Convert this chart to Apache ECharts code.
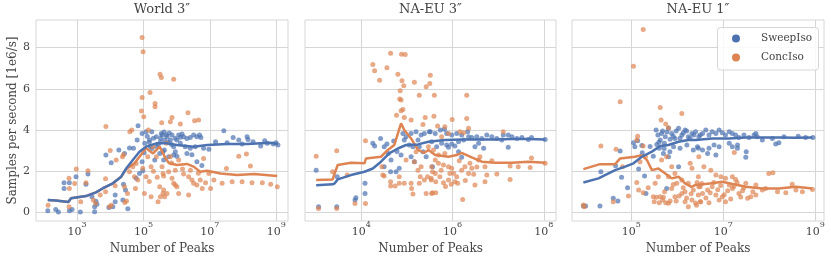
<!DOCTYPE html>
<html><head><meta charset="utf-8">
<script src="https://cdn.jsdelivr.net/npm/echarts@6.0.0/dist/echarts.min.js"></script>
<style>html,body{margin:0;padding:0;background:#fff}#c{width:831px;height:262px}</style>
</head><body><div id="c"></div>
<script>
const panelTitles = ['World 3\u2033', 'NA-EU 3\u2033', 'NA-EU 1\u2033'];
const seriesNames = ['SweepIso', 'ConcIso'];
const xName = 'Number of Peaks';
const yName = 'Samples per second [1e6/s]';
const yTicks = [0, 2, 4, 6, 8];
const xTicksWorld = [1e3, 1e5, 1e7, 1e9];
const xTicksNa3 = [1e4, 1e6, 1e8];
const xTicksNa1 = [1e5, 1e7, 1e9];

const worldSweep = [[132,0.08],[229,0.14],[275,0.02],[589,0.08],[708,0.14],[1260,0.02],[407,1.44],[589,1.44],[407,1.16],[933,1.73],[2140,1.86],[1860,1.37],[2820,0.76],[3720,0.54],[3390,0.27],[3390,0.03],[3980,0.39],[9120,0.24],[14100,0.52],[14100,0.84],[7410,2.78],[10700,2.41],[28800,1.08],[25100,1.36],[18200,3.03],[26900,2.86],[38000,3.12],[50100,3.11],[64600,3.51],[91200,3.83],[120000,3.91],[178000,3.91],[151000,3.51],[91200,2.46],[75900,1.89],[95500,2.02],[60300,1.65],[110000,3.35],[245000,3.67],[347000,3.83],[437000,3.51],[389000,2.94],[309000,2.86],[219000,2.54],[490000,3.75],[33900,0.18],[24000,0.60],[12000,0.27],[69000,4.2],
[363000,3.75],[513000,3.67],[646000,3.51],[724000,3.75],[813000,3.19],[1.02e6,3.51],[1.15e6,3.75],[1.45e6,3.80],[1.62e6,3.67],[2.04e6,3.59],[2.57e6,3.64],[3.24e6,3.75],[4.07e6,3.67],[4.9e6,3.75],[5.37e6,3.64],[1.29e6,3.35],[1.82e6,3.19],[2.57e6,3.11],[3.63e6,3.19],[813000,2.78],[1.02e6,2.73],[912000,2.94],[2.04e6,2.86],[2.88e6,2.80],[4.07e6,2.46],[5.75e6,2.28],[6.46e6,3.11],[9.33e6,3.06],[1.48e7,3.43],[2.63e7,3.96],[3.31e7,3.38],[5.01e7,3.64],[7.41e7,3.51],[9.33e7,3.32],[1.32e8,3.67],[1.41e8,3.54],[2.0e8,3.43],[3.39e8,3.22],[4.47e8,3.48],[5.37e8,3.35],[8.13e8,3.32],[9.77e8,3.38],[1.12e9,3.27],[427000,3.03],[575000,2.70],[407000,2.54],[324000,3.43],
[200000,3.6],[280000,3.3],[160000,3.2],[130000,3.7],[105000,2.9],[420000,3.9],[550000,3.4],[700000,3.3],[150000,3.4],[180000,3.1],[250000,3.2],[330000,3.6],[600000,3.85],[900000,3.6],[1.3e6,3.65]];
const worldConc = [[135,0.34],[575,1.65],[589,1.16],[575,0.27],[955,2.10],[851,1.40],[1860,1.44],[2140,2.02],[1290,0.52],[3090,0.60],[3630,0.43],[5010,0.84],[7240,1.63],[7240,1.00],[7410,4.17],[10000,3.00],[10700,0.34],[9550,0.27],[15100,2.54],[14100,1.29],[25100,2.80],[23400,2.70],[27500,0.48],[30900,0.55],[26900,1.24],[33100,0.92],[38000,1.97],[38900,3.91],[44700,4.00],[47900,2.22],[53700,1.73],[60300,2.37],[67600,1.57],[57500,1.16],[87100,4.92],[91200,5.58],[91200,8.49],[97700,7.80],[102000,4.64],[95500,2.14],[107000,0.92],[141000,4.00],[158000,5.82],[170000,0.76],[170000,2.22],[135000,2.70],[120000,1.73],[224000,5.29],[224000,5.13],[316000,6.70],[347000,6.55],[355000,4.35],[191000,3.19],[245000,2.70],[389000,1.89],[309000,1.24],[389000,0.92],[275000,0.52],[437000,0.76],
[813000,6.46],[2.19e6,4.84],[724000,4.61],[1.29e6,4.29],[3.47e6,4.45],[4.57e6,4.48],[646000,4.40],[490000,3.35],[646000,2.70],[363000,2.22],[1.15e6,2.54],[912000,2.05],[575000,1.97],[724000,1.65],[407000,1.76],[1.62e6,1.86],[2.29e6,1.73],[2.88e6,1.57],[813000,1.41],[912000,1.33],[1.02e6,1.24],[324000,0.76],[407000,1.08],[1.15e6,0.92],[2.29e6,0.84],[4.07e6,1.33],[3.24e6,1.41],[5.13e6,1.57],[7.41e6,1.44],[9.33e6,1.89],[6.46e6,2.62],[1.32e7,1.57],[2.34e7,1.41],[4.68e7,1.49],[7.41e7,2.73],[1.26e8,2.83],[1.66e8,2.25],[9.33e7,1.49],[1.86e8,1.44],[3.8e8,1.44],[6.76e8,1.37],[1.07e9,1.24],[3.16e7,2.13],[1.05e7,1.16],[5.89e6,1.16],[513000,0.92],
[150000,1.5],[200000,2.0],[260000,1.7],[700000,2.4],[1.5e6,2.1],[2.6e6,2.05],[4.5e6,1.9]];
const worldSweepTrend = [[132,0.60],[229,0.58],[550,0.50],[661,0.68],[1860,0.79],[3720,0.97],[5890,1.16],[12000,1.41],[21400,1.73],[30200,2.13],[47900,2.54],[75900,2.94],[120000,3.19],[245000,3.35],[490000,3.35],[1.02e6,3.27],[3.24e6,3.19],[8.32e6,3.27],[3.31e7,3.32],[1.32e8,3.32],[6.76e8,3.38],[1.12e9,3.32]];
const worldConcTrend = [[132,0.60],[229,0.58],[550,0.50],[661,0.68],[1860,0.79],[3720,0.97],[5890,1.16],[12000,1.41],[21400,1.73],[30200,2.10],[53700,2.38],[120000,3.11],[195000,2.86],[309000,3.19],[437000,2.70],[575000,2.40],[1.02e6,2.30],[2.04e6,2.35],[3.24e6,2.22],[5.13e6,1.97],[8.32e6,2.02],[2.09e7,1.89],[6.61e7,1.81],[2.14e8,1.86],[1.07e9,1.76]];

const na3Sweep = [[1020,2.04],[1150,0.27],[2880,0.27],[7240,0.60],[7590,0.71],[12000,1.41],[12000,0.92],[17800,3.35],[19500,3.22],[26300,3.58],[31600,3.19],[38900,2.86],[36300,3.32],[51300,3.46],[44700,2.54],[31600,2.22],[67600,2.14],[57500,1.97],[43700,1.97],[60300,2.95],[74100,2.78],[81300,3.83],[95500,3.67],[123000,3.83],[158000,3.91],[204000,3.75],[240000,3.83],[309000,3.91],[123000,2.70],[145000,2.46],[186000,3.19],[224000,2.94],[263000,2.70],[363000,2.22],[87100,3.51],[112000,3.27],[135000,3.19],[174000,3.51],[2950,1.73],
[324000,3.91],[417000,3.83],[537000,4.0],[661000,4.03],[741000,3.83],[955000,3.75],[1.23e6,3.83],[1.58e6,3.75],[2.14e6,3.91],[2.24e6,3.67],[347000,3.43],[447000,3.19],[575000,3.35],[741000,3.27],[955000,3.32],[1.35e6,3.43],[1.74e6,3.51],[813000,3.16],[1.12e6,3.22],[2.63e6,3.64],[3.39e6,3.67],[4.37e6,3.59],[5.62e6,3.75],[7.24e6,3.67],[9.33e6,3.59],[3.09e6,3.19],[3.72e6,3.35],[1.29e7,3.75],[1.66e7,3.75],[2.0e7,3.67],[1.2e7,3.51],[2.57e7,3.59],[3.31e7,3.64],[4.57e7,3.54],[1.66e7,3.16],[5.37e7,3.64],[1.07e8,3.54],[1.35e6,2.94],[1.58e6,2.67],[4.79e6,3.11]];
const na3Conc = [[1020,2.73],[1150,0.19],[2880,0.19],[2880,2.99],[2340,1.97],[4900,1.81],[7240,0.43],[12300,0.43],[12300,3.48],[17800,7.18],[19500,6.88],[25100,6.42],[36300,7.02],[43700,7.73],[75900,7.68],[91200,7.67],[63100,6.71],[77600,6.39],[85100,6.15],[70800,5.90],[69200,5.50],[74100,5.45],[81300,5.0],[74100,4.93],[58900,4.72],[87100,4.61],[123000,4.48],[224000,4.27],[251000,4.61],[186000,5.69],[145000,6.32],[263000,6.10],[316000,6.26],[324000,6.66],[28200,2.22],[29500,1.81],[31600,1.76],[43700,1.49],[43700,1.28],[55000,1.28],[67600,1.73],[67600,1.41],[87100,1.41],[123000,1.41],[126000,1.16],[135000,0.89],[186000,1.41],[195000,1.73],[240000,1.57],[282000,1.73],[339000,1.65],[363000,1.97],[145000,2.46],[204000,2.22],[174000,2.05],[263000,0.92],[347000,0.92],[95500,2.54],[158000,2.94],
[398000,5.69],[2.04e6,5.69],[389000,4.67],[977000,4.51],[2.04e6,4.56],[468000,4.19],[676000,4.16],[2.24e6,4.08],[1.45e6,3.91],[1.74e6,3.87],[1.29e7,3.91],[575000,3.67],[813000,3.83],[295000,3.19],[380000,3.03],[490000,2.78],[676000,2.86],[417000,2.54],[347000,2.22],[490000,2.38],[631000,2.30],[813000,2.22],[955000,2.14],[871000,1.89],[417000,1.89],[339000,1.57],[427000,1.49],[525000,1.73],[631000,1.44],[813000,1.57],[933000,1.36],[1.12e6,1.49],[1.29e6,1.41],[1.58e6,2.05],[1.86e6,2.22],[2.4e6,2.38],[2.63e6,2.14],[3.72e6,2.54],[3.98e6,2.70],[5.13e6,2.22],[5.62e6,1.81],[7.24e6,2.51],[9.33e6,1.86],[1.82e7,2.25],[2.75e7,2.22],[5.01e7,2.18],[5.37e7,2.64],[1.07e8,2.38],[1.82e7,1.60],[3.09e6,1.33],[5.13e6,1.49],[363000,0.95],[427000,0.95],[1.66e6,0.63],[1.23e6,1.73],[2.24e6,1.89],
[560000,2.05],[700000,1.25],[1.05e6,1.9],[1.4e6,2.5],[1.9e6,1.55],[2.9e6,1.85],[3.4e6,2.2]];
const na3SweepTrend = [[1020,1.32],[2340,1.36],[2600,1.41],[3020,1.60],[5890,1.81],[11700,1.97],[17800,2.13],[26900,2.46],[40700,2.86],[63100,3.10],[95500,3.27],[174000,3.30],[295000,3.43],[676000,3.51],[1.58e6,3.54],[3.72e6,3.54],[8.51e6,3.54],[2.0e7,3.56],[4.57e7,3.56],[1.07e8,3.54]];
const na3ConcTrend = [[1020,1.57],[2340,1.60],[3020,2.30],[5890,2.41],[11700,2.38],[12600,2.62],[26900,2.70],[38000,3.03],[52500,3.27],[74100,4.32],[87100,4.0],[123000,3.59],[174000,3.03],[240000,2.89],[295000,3.03],[417000,2.78],[813000,2.70],[1.23e6,2.78],[1.58e6,2.89],[2.63e6,2.67],[4.37e6,2.46],[8.51e6,2.41],[2.0e7,2.41],[4.57e7,2.46],[1.07e8,2.41]];

const na1Sweep = [[9120,0.31],[10200,0.31],[20900,0.31],[40700,0.68],[51300,0.55],[21900,1.97],[57500,2.98],[45700,2.26],[61700,1.70],[83200,1.20],[112000,3.38],[120000,3.19],[138000,3.48],[170000,3.25],[174000,2.90],[257000,3.20],[145000,2.10],[195000,1.76],[209000,0.92],[302000,2.73],[347000,4.0],[380000,3.75],[457000,3.83],[550000,3.67],[646000,4.08],[427000,3.51],[525000,3.35],[407000,3.11],[501000,2.86],[646000,2.70],[692000,2.94],[759000,3.83],[891000,3.59],[1.07e6,4.08],[1.26e6,3.75],[1.48e6,4.0],[1.74e6,3.67],[2.09e6,3.83],[2.51e6,3.91],[3.16e6,3.75],[832000,3.19],[1.15e6,3.11],[1.62e6,3.27],[2.24e6,3.03],[2.88e6,3.11],[1.07e6,2.21],[589000,1.16],
[2.95e6,3.67],[3.55e6,3.83],[4.17e6,4.0],[4.9e6,3.75],[5.75e6,3.91],[6.92e6,3.83],[8.13e6,4.0],[9.55e6,3.87],[1.12e7,3.75],[1.35e7,3.91],[1.58e7,3.83],[1.86e7,3.75],[2.19e7,3.64],[2.82e7,3.75],[3.63e7,3.64],[4.68e7,3.75],[5.13e7,3.83],[2.75e6,3.19],[3.55e6,3.03],[4.9e6,3.11],[6.31e6,3.27],[8.13e6,3.19],[1.35e7,3.35],[1.58e7,3.19],[2.04e7,3.27],[4.57e6,2.86],[6.92e6,2.78],[2.04e7,3.11],[3.09e7,2.67],[3.16e7,2.94],[5.5e7,3.67],[7.08e7,3.51],[1.17e8,3.59],[1.38e8,3.32],[1.62e8,3.38],[2.09e8,3.67],[4.27e8,3.70],[6.17e8,3.64],[8.91e8,3.64],
[480000,3.95],[600000,3.9],[700000,3.55],[820000,3.7],[950000,3.95],[1.15e6,3.6],[1.35e6,3.85],[1.6e6,3.95],[1.9e6,3.6],[2.3e6,3.75],[400000,3.4],[520000,3.1],[360000,3.3]];
const na1Conc = [[182000,8.88],[112000,7.10],[57500,5.37],[9120,0.36],[9550,0.27],[21900,3.22],[46800,3.07],[64600,2.21],[40700,0.52],[87100,0.79],[138000,3.70],[132000,3.51],[182000,3.22],[204000,2.70],[155000,2.46],[132000,1.45],[145000,1.08],[182000,0.95],[234000,1.20],[302000,0.76],[355000,0.73],[427000,0.76],[501000,0.73],[316000,0.52],[407000,0.47],[562000,0.47],[427000,5.09],[447000,4.48],[562000,4.29],[646000,4.11],[1.26e6,4.80],[457000,2.54],[589000,2.70],[389000,1.73],[331000,1.41],[759000,2.21],[891000,1.89],[646000,1.73],[759000,1.16],[891000,0.76],[646000,0.44],[977000,1.41],[1.26e6,1.57],[1.74e6,1.41],[1.26e6,0.92],[1.48e6,0.52],[1.74e6,0.27],[2.09e6,0.60],[2.63e6,0.35],[3.16e6,0.52],[1.91e6,2.38],[2.09e6,2.14],[2.88e6,1.73],[3.16e6,1.24],[1.48e6,1.0],[2.24e6,1.08],[2.88e6,0.84],
[2.95e6,2.70],[3.8e6,2.21],[5.37e6,2.05],[6.92e6,1.81],[1.74e7,2.91],[8.91e6,1.73],[1.12e7,1.65],[1.58e7,1.73],[1.86e7,1.60],[2.95e6,1.24],[3.55e6,0.92],[4.57e6,1.08],[5.75e6,1.24],[6.92e6,0.84],[8.13e6,0.60],[9.55e6,0.76],[1.12e7,0.52],[1.35e7,1.33],[1.58e7,1.16],[2.19e7,0.92],[2.63e7,1.05],[3.09e7,1.41],[3.39e7,0.68],[3.98e7,0.76],[5.13e7,0.84],[5.13e7,1.33],[7.08e7,1.08],[9.77e7,1.89],[1.2e8,1.92],[1.51e8,1.0],[2.29e8,0.95],[3.8e8,1.08],[5.25e8,1.0],[8.71e8,1.11],[3.16e8,1.37],[8.32e7,1.16],[3.24e6,0.52],[4.9e6,0.47],
[3.4e6,1.4],[4.2e6,0.7],[5.2e6,0.95],[6.2e6,1.45],[7.6e6,1.1],[8.8e6,1.3],[1.05e7,0.85],[1.25e7,1.05],[1.45e7,0.65],[1.7e7,1.25],[2.0e7,1.45],[2.4e7,0.75],[2.8e7,1.2],[4.4e7,1.0],
[480000,0.6],[530000,1.0],[700000,0.55],[820000,1.35],[950000,0.55],[1.1e6,0.8],[1.35e6,1.2],[1.6e6,0.7],[2.0e6,0.9],[2.5e6,0.45],[2.7e6,1.45]];
const na1SweepTrend = [[9120,1.45],[19500,1.65],[26900,1.81],[44700,2.05],[74100,2.22],[112000,2.38],[170000,2.70],[282000,2.95],[427000,3.22],[646000,3.27],[1.07e6,3.43],[1.74e6,3.51],[2.51e6,3.51],[5.75e6,3.59],[1.35e7,3.59],[3.09e7,3.64],[7.08e7,3.64],[1.62e8,3.64],[3.8e8,3.62],[8.71e8,3.64]];
const na1ConcTrend = [[9120,2.10],[20900,2.34],[44700,2.34],[57500,2.62],[120000,2.70],[170000,2.78],[219000,2.54],[282000,2.05],[389000,2.13],[550000,1.89],[759000,1.65],[1.07e6,1.73],[1.48e6,1.41],[2.04e6,1.24],[2.51e6,1.33],[5.75e6,1.41],[9.55e6,1.49],[1.35e7,1.41],[3.09e7,1.24],[7.08e7,1.16],[1.62e8,1.16],[3.8e8,1.24],[8.71e8,1.16]];

const FONT = 'DejaVu Serif';
const TEXT = '#444';
const GRID = '#d6d6d6';
const BLUE = '#4C72B0';
const ORANGE = '#DD8452';

const panels = [
  {sweep: worldSweep, conc: worldConc, sweepTrend: worldSweepTrend, concTrend: worldConcTrend, ticks: xTicksWorld, range: [58.3, 2.25e9], left: 36, width: 252},
  {sweep: na3Sweep, conc: na3Conc, sweepTrend: na3SweepTrend, concTrend: na3ConcTrend, ticks: xTicksNa3, range: [580, 1.85e8], left: 305, width: 251},
  {sweep: na1Sweep, conc: na1Conc, sweepTrend: na1SweepTrend, concTrend: na1ConcTrend, ticks: xTicksNa1, range: [5160, 1.55e9], left: 572, width: 252}
];

const grids = [], xAxes = [], yAxes = [], series = [], graphics = [];
panels.forEach((p, i) => {
  grids.push({left: p.left, top: 20, width: p.width, height: 201, show: true, borderColor: GRID, borderWidth: 1, backgroundColor: 'transparent'});
  xAxes.push({
    type: 'log', logBase: 10, gridIndex: i, min: p.range[0], max: p.range[1],
    name: xName, nameLocation: 'middle', nameGap: 21,
    nameTextStyle: {fontFamily: FONT, fontSize: 12, color: TEXT},
    axisLine: {show: false},
    axisTick: {show: false, customValues: p.ticks},
    axisLabel: {
      customValues: p.ticks, margin: 0,
      formatter: v => '{b|10}{s|' + Math.round(Math.log10(v)) + '}',
      rich: {
        b: {fontFamily: FONT, fontSize: 11, color: TEXT, lineHeight: 17, verticalAlign: 'bottom'},
        s: {fontFamily: FONT, fontSize: 8, color: TEXT, lineHeight: 9, verticalAlign: 'top'}
      }
    },
    splitLine: {show: true, lineStyle: {color: GRID, width: 1}},
    minorTick: {show: false}, minorSplitLine: {show: false}
  });
  yAxes.push({
    type: 'value', gridIndex: i, min: -0.42, max: 9.34,
    name: i === 0 ? yName : '', nameLocation: 'middle', nameGap: 15,
    nameTextStyle: {fontFamily: FONT, fontSize: 12, color: TEXT},
    axisLine: {show: false},
    axisTick: {show: false, customValues: yTicks},
    axisLabel: {show: i === 0, customValues: yTicks, fontFamily: FONT, fontSize: 11, color: TEXT, margin: 6},
    splitLine: {show: true, lineStyle: {color: GRID, width: 1}}
  });
  series.push({type: 'scatter', name: seriesNames[0], xAxisIndex: i, yAxisIndex: i, data: p.sweep, symbolSize: 5,
    itemStyle: {color: BLUE, opacity: 0.7}, z: 2});
  series.push({type: 'scatter', name: seriesNames[1], xAxisIndex: i, yAxisIndex: i, data: p.conc, symbolSize: 5,
    itemStyle: {color: ORANGE, opacity: 0.7}, z: 2});
  series.push({type: 'line', name: seriesNames[1] + ' trend', xAxisIndex: i, yAxisIndex: i, data: p.concTrend, showSymbol: false, symbol: 'none',
    lineStyle: {color: ORANGE, width: 2.5}, itemStyle: {color: ORANGE}, z: 3});
  series.push({type: 'line', name: seriesNames[0] + ' trend', xAxisIndex: i, yAxisIndex: i, data: p.sweepTrend, showSymbol: false, symbol: 'none',
    lineStyle: {color: BLUE, width: 2.5}, itemStyle: {color: BLUE}, z: 4});
  graphics.push({type: 'text', x: p.left + p.width / 2, y: 10, style: {text: panelTitles[i], fontFamily: FONT, fontSize: 13, fill: TEXT, textAlign: 'center', textVerticalAlign: 'middle'}});
});
// legend frame
graphics.push({type: 'rect', z: 5, shape: {x: 717.5, y: 27.5, width: 101, height: 42.5, r: 3},
  style: {fill: 'rgba(255,255,255,0.85)', stroke: GRID, lineWidth: 1}});

const chart = echarts.init(document.getElementById('c'), null, {renderer: 'canvas'});
chart.setOption({
  animation: false,
  backgroundColor: '#fff',
  grid: grids, xAxis: xAxes, yAxis: yAxes, series: series,
  graphic: graphics,
  legend: {
    data: seriesNames, orient: 'vertical', left: 717, top: 27, icon: 'circle', z: 6,
    itemWidth: 8, itemHeight: 8, itemGap: 8, padding: [6, 0, 6, 15],
    backgroundColor: 'transparent', borderWidth: 0,
    itemStyle: {opacity: 1},
    textStyle: {fontFamily: FONT, fontSize: 10.5, color: TEXT, padding: [0, 0, 0, 16]}
  }
});
</script></body></html>
